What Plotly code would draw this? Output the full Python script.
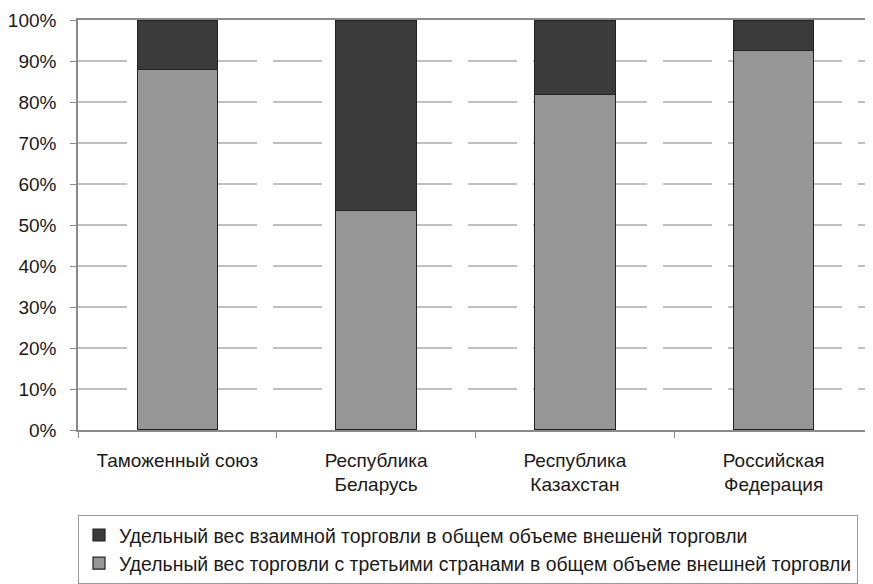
import plotly.graph_objects as go

categories = ["Таможенный союз", "Республика<br>Беларусь", "Республика<br>Казахстан", "Российская<br>Федерация"]
third_countries = [87.9, 53.6, 81.9, 92.5]
mutual = [12.1, 46.4, 18.1, 7.5]
name_mutual = "Удельный вес взаимной торговли в общем объеме внешенй торговли"
name_third = "Удельный вес торговли с третьими странами в общем объеме внешней торговли"
y_ticks = [0, 10, 20, 30, 40, 50, 60, 70, 80, 90, 100]
y_labels = [f"{v}%" for v in y_ticks]

FONT = "Liberation Sans, Arial, sans-serif"

fig = go.Figure()
fig.add_trace(go.Bar(x=categories, y=third_countries, name=name_third,
                     marker=dict(color="#969696", line=dict(color="#222222", width=1.2))))
fig.add_trace(go.Bar(x=categories, y=mutual, name=name_mutual,
                     marker=dict(color="#3b3b3b", line=dict(color="#222222", width=1.2))))

fig.update_layout(
    width=865, height=576,
    barmode="stack", bargap=0.595,
    margin=dict(l=65, r=0, t=12, b=143),
    paper_bgcolor="white", plot_bgcolor="white",
    font=dict(family=FONT, size=19, color="#1a1a1a"),
    legend=dict(x=0.0, y=-0.207, xanchor="left", yanchor="top",
                bordercolor="#9a9a9a", borderwidth=1,
                font=dict(size=19.4, color="#1a1a1a"),
                tracegroupgap=0, itemwidth=30),
    xaxis=dict(showline=True, linecolor="#8a8a8a", linewidth=1.5, mirror=True,
               ticks="outside", tickson="boundaries", ticklen=6, tickcolor="#8a8a8a",
               ticklabelstandoff=12,
               showgrid=False, tickfont=dict(size=19)),
    yaxis=dict(range=[0, 100], tickvals=y_ticks, ticktext=y_labels,
               showline=True, linecolor="#8a8a8a", linewidth=1.5,
               ticks="outside", ticklen=6, tickcolor="#8a8a8a",
               ticklabelstandoff=10,
               showgrid=True, gridcolor="#c0c0c0", gridwidth=1.5, griddash="49px,16px",
               zeroline=False, tickfont=dict(size=19)),
)

fig.write_html("out.html")
